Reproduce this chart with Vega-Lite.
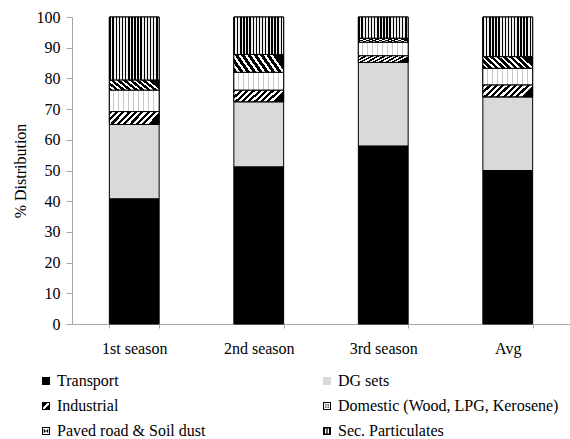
{
  "$schema": "https://vega.github.io/schema/vega-lite/v6.json",
  "autosize": {"type": "none"},
  "padding": {"left": 72, "top": 17, "right": 0, "bottom": 115},
  "width": 498,
  "height": 307,
  "background": "white",
  "config": {
    "view": {"stroke": null},
    "font": "Liberation Serif",
    "axis": {"labelFont": "Liberation Serif", "titleFont": "Liberation Serif", "labelColor": "#000", "titleColor": "#000", "domainColor": "#a6a6a6", "tickColor": "#a6a6a6", "grid": false, "labelFontSize": 16, "titleFontSize": 16, "titleFontWeight": "normal"},
    "legend": {"labelFont": "Liberation Serif", "labelFontSize": 16, "labelColor": "#000", "title": null, "orient": "none", "legendX": -34, "legendY": 356, "direction": "horizontal", "columns": 2, "symbolSize": 64, "symbolStrokeWidth": 0, "symbolOpacity": 1, "labelOffset": 3, "rowPadding": 9, "columnPadding": 113, "labelLimit": 300}
  },
  "params": [
    {"name": "gInd", "value": {"gradient": "linear", "x1": 0, "y1": 0, "x2": 1, "y2": 0.25, "stops": [
      {"offset": 0, "color": "#000"}, {"offset": 0.06, "color": "#000"}, {"offset": 0.06, "color": "#fff"}, {"offset": 0.12, "color": "#fff"},
      {"offset": 0.12, "color": "#000"}, {"offset": 0.18, "color": "#000"}, {"offset": 0.18, "color": "#fff"}, {"offset": 0.24, "color": "#fff"},
      {"offset": 0.24, "color": "#000"}, {"offset": 0.30, "color": "#000"}, {"offset": 0.30, "color": "#fff"}, {"offset": 0.36, "color": "#fff"},
      {"offset": 0.36, "color": "#000"}, {"offset": 0.42, "color": "#000"}, {"offset": 0.42, "color": "#fff"}, {"offset": 0.48, "color": "#fff"},
      {"offset": 0.48, "color": "#000"}, {"offset": 0.54, "color": "#000"}, {"offset": 0.54, "color": "#fff"}, {"offset": 0.60, "color": "#fff"},
      {"offset": 0.60, "color": "#000"}, {"offset": 0.66, "color": "#000"}, {"offset": 0.66, "color": "#fff"}, {"offset": 0.72, "color": "#fff"},
      {"offset": 0.72, "color": "#000"}, {"offset": 0.78, "color": "#000"}, {"offset": 0.78, "color": "#fff"}, {"offset": 0.84, "color": "#fff"},
      {"offset": 0.84, "color": "#000"}, {"offset": 0.90, "color": "#000"}, {"offset": 0.90, "color": "#fff"}, {"offset": 0.96, "color": "#fff"},
      {"offset": 0.96, "color": "#000"}, {"offset": 1, "color": "#000"}
    ]}},
    {"name": "gDom", "value": {"gradient": "linear", "x1": 0, "y1": 0, "x2": 1, "y2": 0, "stops": [
      {"offset": 0, "color": "#fff"}, {"offset": 0.08, "color": "#fff"}, {"offset": 0.08, "color": "#c8c8c8"}, {"offset": 0.1, "color": "#c8c8c8"},
      {"offset": 0.1, "color": "#fff"}, {"offset": 0.18, "color": "#fff"}, {"offset": 0.18, "color": "#c8c8c8"}, {"offset": 0.2, "color": "#c8c8c8"},
      {"offset": 0.2, "color": "#fff"}, {"offset": 0.28, "color": "#fff"}, {"offset": 0.28, "color": "#c8c8c8"}, {"offset": 0.3, "color": "#c8c8c8"},
      {"offset": 0.3, "color": "#fff"}, {"offset": 0.38, "color": "#fff"}, {"offset": 0.38, "color": "#c8c8c8"}, {"offset": 0.4, "color": "#c8c8c8"},
      {"offset": 0.4, "color": "#fff"}, {"offset": 0.48, "color": "#fff"}, {"offset": 0.48, "color": "#c8c8c8"}, {"offset": 0.5, "color": "#c8c8c8"},
      {"offset": 0.5, "color": "#fff"}, {"offset": 0.58, "color": "#fff"}, {"offset": 0.58, "color": "#c8c8c8"}, {"offset": 0.6, "color": "#c8c8c8"},
      {"offset": 0.6, "color": "#fff"}, {"offset": 0.68, "color": "#fff"}, {"offset": 0.68, "color": "#c8c8c8"}, {"offset": 0.7, "color": "#c8c8c8"},
      {"offset": 0.7, "color": "#fff"}, {"offset": 0.78, "color": "#fff"}, {"offset": 0.78, "color": "#c8c8c8"}, {"offset": 0.8, "color": "#c8c8c8"},
      {"offset": 0.8, "color": "#fff"}, {"offset": 0.88, "color": "#fff"}, {"offset": 0.88, "color": "#c8c8c8"}, {"offset": 0.9, "color": "#c8c8c8"},
      {"offset": 0.9, "color": "#fff"}, {"offset": 1, "color": "#fff"}
    ]}},
    {"name": "gPav", "value": {"gradient": "linear", "x1": 0, "y1": 1, "x2": 1, "y2": 0.75, "stops": [
      {"offset": 0, "color": "#000"}, {"offset": 0.07, "color": "#000"}, {"offset": 0.07, "color": "#fff"}, {"offset": 0.12, "color": "#fff"},
      {"offset": 0.12, "color": "#000"}, {"offset": 0.19, "color": "#000"}, {"offset": 0.19, "color": "#fff"}, {"offset": 0.24, "color": "#fff"},
      {"offset": 0.24, "color": "#000"}, {"offset": 0.31, "color": "#000"}, {"offset": 0.31, "color": "#fff"}, {"offset": 0.36, "color": "#fff"},
      {"offset": 0.36, "color": "#000"}, {"offset": 0.43, "color": "#000"}, {"offset": 0.43, "color": "#fff"}, {"offset": 0.48, "color": "#fff"},
      {"offset": 0.48, "color": "#000"}, {"offset": 0.55, "color": "#000"}, {"offset": 0.55, "color": "#fff"}, {"offset": 0.60, "color": "#fff"},
      {"offset": 0.60, "color": "#000"}, {"offset": 0.67, "color": "#000"}, {"offset": 0.67, "color": "#fff"}, {"offset": 0.72, "color": "#fff"},
      {"offset": 0.72, "color": "#000"}, {"offset": 0.79, "color": "#000"}, {"offset": 0.79, "color": "#fff"}, {"offset": 0.84, "color": "#fff"},
      {"offset": 0.84, "color": "#000"}, {"offset": 0.91, "color": "#000"}, {"offset": 0.91, "color": "#fff"}, {"offset": 0.96, "color": "#fff"},
      {"offset": 0.96, "color": "#000"}, {"offset": 1, "color": "#000"}
    ]}},
    {"name": "gSec", "value": {"gradient": "linear", "x1": 0, "y1": 0, "x2": 1, "y2": 0, "stops": [
      {"offset": 0, "color": "#000"}, {"offset": 0.03, "color": "#000"}, {"offset": 0.03, "color": "#eee"}, {"offset": 0.0625, "color": "#eee"},
      {"offset": 0.0625, "color": "#000"}, {"offset": 0.0925, "color": "#000"}, {"offset": 0.0925, "color": "#eee"}, {"offset": 0.125, "color": "#eee"},
      {"offset": 0.125, "color": "#000"}, {"offset": 0.155, "color": "#000"}, {"offset": 0.155, "color": "#eee"}, {"offset": 0.1875, "color": "#eee"},
      {"offset": 0.1875, "color": "#000"}, {"offset": 0.2175, "color": "#000"}, {"offset": 0.2175, "color": "#eee"}, {"offset": 0.25, "color": "#eee"},
      {"offset": 0.25, "color": "#000"}, {"offset": 0.28, "color": "#000"}, {"offset": 0.28, "color": "#eee"}, {"offset": 0.3125, "color": "#eee"},
      {"offset": 0.3125, "color": "#000"}, {"offset": 0.3425, "color": "#000"}, {"offset": 0.3425, "color": "#eee"}, {"offset": 0.375, "color": "#eee"},
      {"offset": 0.375, "color": "#000"}, {"offset": 0.405, "color": "#000"}, {"offset": 0.405, "color": "#eee"}, {"offset": 0.4375, "color": "#eee"},
      {"offset": 0.4375, "color": "#000"}, {"offset": 0.4675, "color": "#000"}, {"offset": 0.4675, "color": "#eee"}, {"offset": 0.5, "color": "#eee"},
      {"offset": 0.5, "color": "#000"}, {"offset": 0.53, "color": "#000"}, {"offset": 0.53, "color": "#eee"}, {"offset": 0.5625, "color": "#eee"},
      {"offset": 0.5625, "color": "#000"}, {"offset": 0.5925, "color": "#000"}, {"offset": 0.5925, "color": "#eee"}, {"offset": 0.625, "color": "#eee"},
      {"offset": 0.625, "color": "#000"}, {"offset": 0.655, "color": "#000"}, {"offset": 0.655, "color": "#eee"}, {"offset": 0.6875, "color": "#eee"},
      {"offset": 0.6875, "color": "#000"}, {"offset": 0.7175, "color": "#000"}, {"offset": 0.7175, "color": "#eee"}, {"offset": 0.75, "color": "#eee"},
      {"offset": 0.75, "color": "#000"}, {"offset": 0.78, "color": "#000"}, {"offset": 0.78, "color": "#eee"}, {"offset": 0.8125, "color": "#eee"},
      {"offset": 0.8125, "color": "#000"}, {"offset": 0.8425, "color": "#000"}, {"offset": 0.8425, "color": "#eee"}, {"offset": 0.875, "color": "#eee"},
      {"offset": 0.875, "color": "#000"}, {"offset": 0.905, "color": "#000"}, {"offset": 0.905, "color": "#eee"}, {"offset": 0.9375, "color": "#eee"},
      {"offset": 0.9375, "color": "#000"}, {"offset": 0.9675, "color": "#000"}, {"offset": 0.9675, "color": "#eee"}, {"offset": 1, "color": "#eee"}
    ]}}
  ],
  "data": {
    "values": [
      {"Season": "1st season", "Source": "Transport", "Value": 40.8},
      {"Season": "1st season", "Source": "DG sets", "Value": 24.2},
      {"Season": "1st season", "Source": "Industrial", "Value": 4.2},
      {"Season": "1st season", "Source": "Domestic (Wood, LPG, Kerosene)", "Value": 7.0},
      {"Season": "1st season", "Source": "Paved road & Soil dust", "Value": 3.3},
      {"Season": "1st season", "Source": "Sec. Particulates", "Value": 20.5},
      {"Season": "2nd season", "Source": "Transport", "Value": 51.2},
      {"Season": "2nd season", "Source": "DG sets", "Value": 21.2},
      {"Season": "2nd season", "Source": "Industrial", "Value": 3.8},
      {"Season": "2nd season", "Source": "Domestic (Wood, LPG, Kerosene)", "Value": 5.8},
      {"Season": "2nd season", "Source": "Paved road & Soil dust", "Value": 5.8},
      {"Season": "2nd season", "Source": "Sec. Particulates", "Value": 12.2},
      {"Season": "3rd season", "Source": "Transport", "Value": 58.0},
      {"Season": "3rd season", "Source": "DG sets", "Value": 27.2},
      {"Season": "3rd season", "Source": "Industrial", "Value": 2.2},
      {"Season": "3rd season", "Source": "Domestic (Wood, LPG, Kerosene)", "Value": 4.4},
      {"Season": "3rd season", "Source": "Paved road & Soil dust", "Value": 1.3},
      {"Season": "3rd season", "Source": "Sec. Particulates", "Value": 6.9},
      {"Season": "Avg", "Source": "Transport", "Value": 50.0},
      {"Season": "Avg", "Source": "DG sets", "Value": 24.0},
      {"Season": "Avg", "Source": "Industrial", "Value": 3.9},
      {"Season": "Avg", "Source": "Domestic (Wood, LPG, Kerosene)", "Value": 5.4},
      {"Season": "Avg", "Source": "Paved road & Soil dust", "Value": 3.8},
      {"Season": "Avg", "Source": "Sec. Particulates", "Value": 12.9}
    ]
  },
  "transform": [
    {"stack": "Value", "groupby": ["Season"], "as": ["v0", "v1"]}
  ],
  "encoding": {
    "x": {
      "field": "Season", "type": "nominal", "sort": null,
      "scale": {"paddingInner": 0.6, "paddingOuter": 0.3},
      "axis": {"title": null, "labelAngle": 0, "tickBand": "extent", "tickSize": 4, "labelPadding": 12}
    },
    "y": {
      "field": "v0", "type": "quantitative",
      "scale": {"domain": [0, 100], "nice": false},
      "axis": {"title": "% Distribution", "values": [0,10,20,30,40,50,60,70,80,90,100], "tickSize": 6, "labelPadding": 6, "titlePadding": 8}
    }
  },
  "layer": [
    {
      "mark": {"type": "point", "filled": true, "size": 1, "strokeWidth": 0},
      "encoding": {
        "y": {"field": "v1", "type": "quantitative"},
        "fill": {
          "field": "Source", "type": "nominal",
          "scale": {
            "domain": ["Transport", "DG sets", "Industrial", "Domestic (Wood, LPG, Kerosene)", "Paved road & Soil dust", "Sec. Particulates"],
            "range": ["#000000", "#d9d9d9", "#000000", "#000000", "#000000", "#000000"]
          }
        },
        "shape": {
          "field": "Source", "type": "nominal",
          "scale": {
            "domain": ["Transport", "DG sets", "Industrial", "Domestic (Wood, LPG, Kerosene)", "Paved road & Soil dust", "Sec. Particulates"],
            "range": [
              "square",
              "M-1,-1H1V1H-1Z",
              "M-1,-1H1V1H-1Z M-0.75,-0.75V0.75H0.75V-0.75Z M-0.75,-0.75L0.35,-0.75L-0.75,0.35Z M0.75,0.75L-0.35,0.75L0.75,-0.35Z",
              "M-1,-1H1V1H-1Z M-0.75,-0.75V0.75H0.75V-0.75Z M-0.45,-0.45H-0.15V-0.15H-0.45Z M0.15,0.15H0.45V0.45H0.15Z M0.15,-0.45H0.45V-0.15H0.15Z M-0.45,0.15H-0.15V0.45H-0.45Z",
              "M-1,-1H1V1H-1Z M-0.75,-0.75V0.75H0.75V-0.75Z M-0.55,-0.55L0,0L-0.55,0.55Z M0.55,-0.55L0.55,0.55L0,0Z",
              "M-1,-1H1V1H-1Z M-0.5,-0.6V0.6H-0.15V-0.6Z M0.15,-0.6V0.6H0.5V-0.6Z"
            ]
          }
        }
      }
    },
    {
      "mark": {"type": "bar", "stroke": "#000", "strokeWidth": 1},
      "encoding": {
        "y2": {"field": "v1"},
        "fill": {"field": "Source", "type": "nominal"}
      }
    },
    {
      "transform": [{"filter": "datum.Source === 'Industrial'"}],
      "mark": {"type": "bar", "stroke": "#000", "strokeWidth": 1, "fill": {"expr": "gInd"}},
      "encoding": {"y2": {"field": "v1"}}
    },
    {
      "transform": [{"filter": "datum.Source === 'Domestic (Wood, LPG, Kerosene)'"}],
      "mark": {"type": "bar", "stroke": "#000", "strokeWidth": 1, "fill": {"expr": "gDom"}},
      "encoding": {"y2": {"field": "v1"}}
    },
    {
      "transform": [{"filter": "datum.Source === 'Paved road & Soil dust'"}],
      "mark": {"type": "bar", "stroke": "#000", "strokeWidth": 1, "fill": {"expr": "gPav"}},
      "encoding": {"y2": {"field": "v1"}}
    },
    {
      "transform": [{"filter": "datum.Source === 'Sec. Particulates'"}],
      "mark": {"type": "bar", "stroke": "#000", "strokeWidth": 1, "fill": {"expr": "gSec"}},
      "encoding": {"y2": {"field": "v1"}}
    }
  ]
}
